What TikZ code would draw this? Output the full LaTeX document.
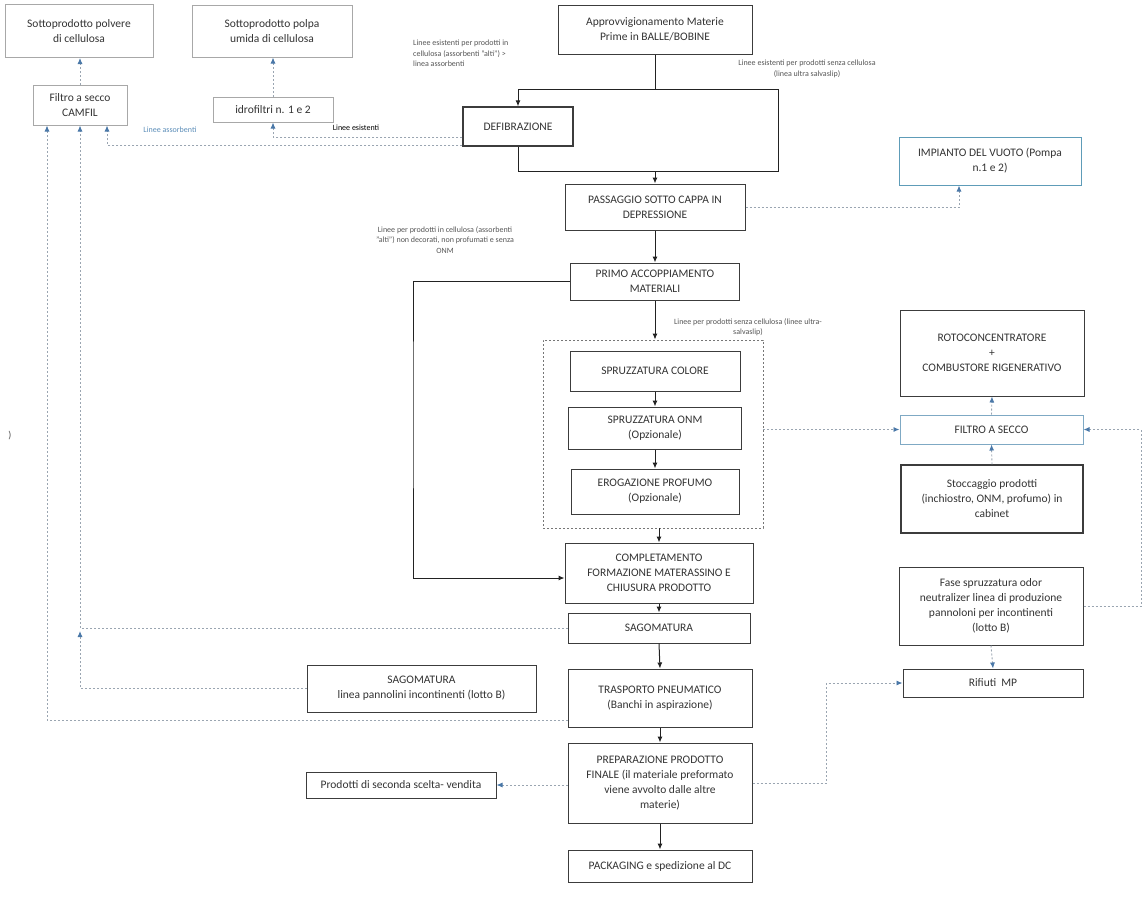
\documentclass[tikz,border=0pt]{standalone}
\usepackage{fontspec}
\setmainfont{Carlito}
\usetikzlibrary{arrows.meta}
\definecolor{boxgray}{HTML}{3C3C3C}
\definecolor{txt}{HTML}{333333}
\definecolor{lightbox}{HTML}{A8A8A8}
\definecolor{dashc}{HTML}{9AA5B1}
\definecolor{arrblue}{HTML}{4A78A8}
\definecolor{tealbox}{HTML}{5E9CB8}
\definecolor{filtrobox}{HTML}{7FA9C4}
\definecolor{notec}{HTML}{555555}
\definecolor{blueNote}{HTML}{5B8DB8}
\definecolor{linec}{HTML}{222222}
\tikzset{
  box/.style={draw=boxgray, line width=1pt, align=center, inner sep=2pt, text=txt,
              font=\fontsize{11.5}{15}\selectfont},
  lbox/.style={box, draw=lightbox},
  grpbox/.style={draw=boxgray!70, line width=0.9pt, dash pattern=on 2pt off 2pt},
  conn/.style={draw=linec, line width=1pt},
  arr/.style={conn, -{Latex[length=6pt,width=5pt]}},
  dconn/.style={draw=dashc, line width=0.9pt, dash pattern=on 2pt off 2pt},
  darr/.style={dconn, -{Latex[length=6pt,width=5pt,color=arrblue]}},
  note/.style={font=\fontsize{8}{10.5}\selectfont, text=notec, align=center, inner sep=0pt},
}
\begin{document}
\begin{tikzpicture}[x=1pt,y=-1pt]
\useasboundingbox (0,0) rectangle (1144,922);
% top left
\node[lbox, minimum width=148pt, minimum height=53pt] (polvere) at (79,31) {Sottoprodotto polvere\\di cellulosa};
\node[lbox, minimum width=160pt, minimum height=52pt] (polpa) at (272,31) {Sottoprodotto polpa\\umida di cellulosa};
\node[lbox, minimum width=94pt, minimum height=40pt] (camfil) at (80,105) {Filtro a secco\\CAMFIL};
\node[lbox, minimum width=120pt, minimum height=25pt] (idro) at (273,109.5) {idrofiltri n. 1 e 2};
% main column
\node[box, minimum width=194pt, minimum height=49pt] (approv) at (655,29.5) {Approvvigionamento Materie\\Prime in BALLE/BOBINE};
\node[box, line width=1.3pt, minimum width=110pt, minimum height=39pt] (defib) at (518,126.5) {DEFIBRAZIONE};
\node[box, minimum width=180pt, minimum height=46pt] (passaggio) at (655,207) {PASSAGGIO SOTTO CAPPA IN\\DEPRESSIONE};
\node[box, minimum width=169pt, minimum height=37pt] (primo) at (655,281.5) {PRIMO ACCOPPIAMENTO\\MATERIALI};
\node[grpbox, minimum width=220pt, minimum height=188pt] (grp) at (653,434) {};
\node[box, minimum width=170pt, minimum height=40pt] (sprcol) at (655,371) {SPRUZZATURA COLORE};
\node[box, minimum width=173pt, minimum height=42pt] (onm) at (655,428) {SPRUZZATURA ONM\\(Opzionale)};
\node[box, minimum width=168pt, minimum height=45pt] (erog) at (655,491.5) {EROGAZIONE PROFUMO\\(Opzionale)};
\node[box, minimum width=188pt, minimum height=60pt] (compl) at (659,573) {COMPLETAMENTO\\FORMAZIONE MATERASSINO E\\CHIUSURA PRODOTTO};
\node[box, minimum width=182pt, minimum height=30pt] (sago) at (659,628) {SAGOMATURA};
\node[box, minimum width=229pt, minimum height=47pt] (lotto) at (421.5,688.5) {SAGOMATURA\\linea pannolini incontinenti (lotto B)};
\node[box, minimum width=184pt, minimum height=58pt] (trasp) at (660,698) {TRASPORTO PNEUMATICO\\(Banchi in aspirazione)};
\node[box, minimum width=184pt, minimum height=80pt] (prep) at (660,783) {PREPARAZIONE PRODOTTO\\FINALE (il materiale preformato\\viene avvolto dalle altre\\materie)};
\node[box, minimum width=190pt, minimum height=26pt] (seconda) at (401,785) {Prodotti di seconda scelta- vendita};
\node[box, minimum width=184pt, minimum height=32pt] (pack) at (660,866) {PACKAGING e spedizione al DC};
% right column
\node[box, draw=tealbox, minimum width=182pt, minimum height=48pt] (impianto) at (990,161) {IMPIANTO DEL VUOTO (Pompa\\n.1 e 2)};
\node[box, minimum width=184pt, minimum height=86pt] (roto) at (992,353) {ROTOCONCENTRATORE\\+\\COMBUSTORE RIGENERATIVO};
\node[box, draw=filtrobox, minimum width=183pt, minimum height=29pt] (filtro) at (991.5,429.5) {FILTRO A SECCO};
\node[box, line width=1.3pt, minimum width=182pt, minimum height=68pt] (stocc) at (992,499) {Stoccaggio prodotti\\(inchiostro, ONM, profumo) in\\cabinet};
\node[box, minimum width=184pt, minimum height=78pt] (fase) at (991,606) {Fase spruzzatura odor\\neutralizer linea di produzione\\pannoloni per incontinenti\\(lotto B)};
\node[box, minimum width=180pt, minimum height=28pt] (rifiuti) at (993,683) {Rifiuti\ \ MP};
% notes
\node[note, align=left, anchor=north west] (n1) at (413,40) {Linee esistenti per prodotti in\\cellulosa (assorbenti "alti") >\\linea assorbenti};
\node[note] (n2) at (807,69) {Linee esistenti per prodotti senza cellulosa\\(linea ultra salvaslip)};
\node[note, text=blueNote] (n3) at (170,130) {Linee assorbenti};
\node[note, text=black] (n4) at (356,128) {Linee esistenti};
\node[note] (n5) at (445,240) {Linee per prodotti in cellulosa (assorbenti\\"alti") non decorati, non profumati e senza\\ONM};
\node[note] (n6) at (748,327) {Linee per prodotti senza cellulosa (linee ultra-\\salvaslip)};
\node[note, font=\fontsize{10}{12}\selectfont] (stray) at (10,436) {)};
% coordinates
\coordinate (bL) at (518,89);
\coordinate (bR) at (778,89);
\coordinate (bRB) at (778,171);
\coordinate (bLB) at (518,171);
\coordinate (xleft) at (413,400);
\coordinate (rside) at (1141,606);
\coordinate (xrif) at (826,740);
% main connectors
\draw[conn] (approv.south) -- (approv.south |- bL);
\draw[conn] (bL) -- (bR) -- (bRB) -- (bLB);
\draw[arr] (bL) -- (defib.north);
\draw[conn] (defib.south) -- (bLB);
\draw[arr] (passaggio.north |- bLB) -- (passaggio.north);
\draw[arr] (passaggio.south) -- (primo.north);
\draw[arr] (primo.south) -- (primo.south |- grp.north);
\draw[arr] (sprcol.south) -- (onm.north);
\draw[arr] (onm.south) -- (erog.north);
\draw[arr] (grp.south -| compl.north) -- (compl.north);
\draw[arr] (primo.west) -| (xleft) |- ([yshift=-5pt]compl.west);
\draw[arr] (compl.south) -- (sago.north);
\draw[arr] (sago.south) -- (trasp.north);
\draw[arr] (trasp.south) -- (prep.north);
\draw[arr] (prep.south) -- (pack.north);
% dashed connectors
\draw[darr] (camfil.north) -- (camfil.north |- polvere.south);
\draw[darr] (idro.north) -- (idro.north |- polpa.south);
\draw[darr] ([yshift=-10.5pt]defib.west) -| (idro.south);
\draw[darr] ([yshift=-18.5pt]defib.west) -| ([xshift=27pt]camfil.south);
\draw[darr] (sago.west) -| (camfil.south);
\draw[darr] (lotto.west) -| ([yshift=-3pt]camfil.south |- sago.west);
\draw[darr] ([yshift=-22pt]trasp.west) -| ([xshift=-33pt]camfil.south);
\draw[darr] (passaggio.east) -| ([xshift=-31pt]impianto.south);
\draw[darr] (grp.east |- filtro.west) -- (filtro.west);
\draw[darr] (fase.east) -- (rside) |- (filtro.east);
\draw[darr] (filtro.north) -- (roto.south);
\draw[darr] (stocc.north) -- (filtro.south);
\draw[darr] (fase.south) -- (rifiuti.north);
\draw[darr] (prep.east) -| (xrif) |- (rifiuti.west);
\draw[darr] ([yshift=-2pt]prep.west) -- (seconda.east);
\end{tikzpicture}
\end{document}
